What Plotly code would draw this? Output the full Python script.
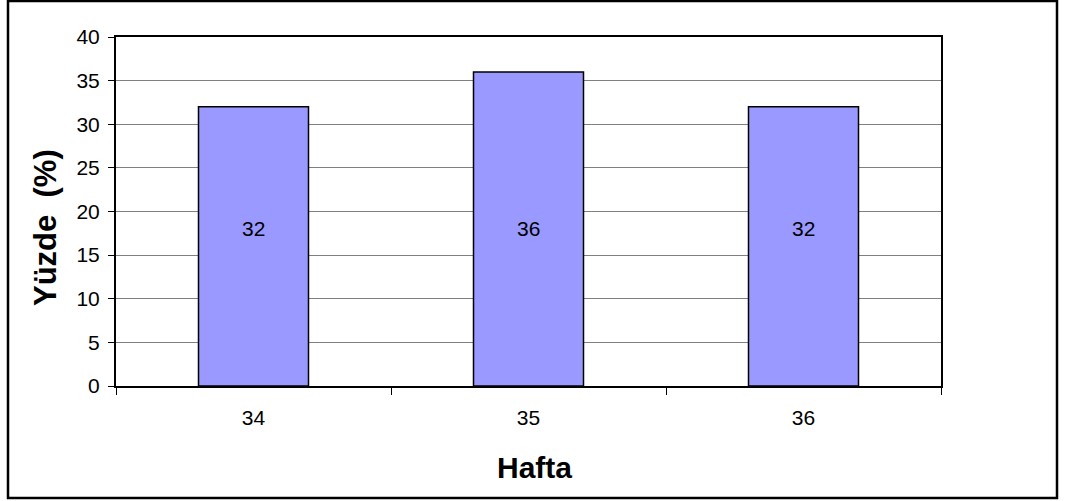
import plotly.graph_objects as go

weeks = ["34", "35", "36"]
values = [32, 36, 32]
y_ticks = [0, 5, 10, 15, 20, 25, 30, 35, 40]
x_title = "Hafta"
y_title = "Yüzde  (%)"

FONT = "Liberation Sans, Arial, sans-serif"
W, H = 1065, 501
L, R, T, B = 116, 124, 37, 115
pw, ph = W - L - R, H - T - B

fig = go.Figure()
fig.add_trace(go.Bar(
    x=weeks, y=values, width=0.4,
    marker=dict(color="#9999FF", line=dict(color="black", width=1.5)),
    hoverinfo="skip",
))

label_y = max(values) / 2
for i, v in enumerate(values):
    fig.add_annotation(x=i, y=label_y, text=str(v), showarrow=False,
                       font=dict(family=FONT, size=21, color="black"),
                       xref="x", yref="y", yanchor="middle")

def px_x(p):
    return (p - L) / pw

def px_y(p):
    return (H - B - p) / ph

fig.add_annotation(text=x_title, xref="paper", yref="paper",
                   x=px_x(534), y=px_y(467), xanchor="center", yanchor="middle",
                   showarrow=False,
                   font=dict(family=FONT, size=30, color="black", weight="bold"))
fig.add_annotation(text=y_title, xref="paper", yref="paper",
                   x=px_x(45), y=px_y(228), xanchor="center", yanchor="middle",
                   showarrow=False, textangle=-90,
                   font=dict(family=FONT, size=31, color="black", weight="bold"))

fig.add_shape(type="rect", xref="paper", yref="paper",
              x0=px_x(8), x1=px_x(1057), y0=px_y(498), y1=px_y(1),
              line=dict(color="black", width=2.5), layer="below")

fig.update_layout(
    width=W, height=H,
    margin=dict(l=L, r=R, t=T, b=B, pad=0),
    paper_bgcolor="white", plot_bgcolor="white",
    showlegend=False,
    font=dict(family=FONT, size=21, color="black"),
    xaxis=dict(type="category", categoryorder="array", categoryarray=weeks,
               range=[-0.5, len(weeks) - 0.5], tickangle=0,
               ticks="outside", tickson="boundaries",
               ticklen=7, tickwidth=1, tickcolor="black",
               ticklabelstandoff=12,
               showline=True, linecolor="black", linewidth=2, mirror=True,
               showgrid=False, tickfont=dict(family=FONT, size=21)),
    yaxis=dict(range=[0, 40], tickvals=y_ticks, ticks="outside",
               ticklen=6, tickwidth=1, tickcolor="black",
               ticklabelstandoff=4,
               showline=True, linecolor="black", linewidth=2, mirror=True,
               showgrid=True, gridcolor="#808080", gridwidth=1,
               zeroline=False, tickfont=dict(family=FONT, size=21)),
)

fig.write_html("out.html")
